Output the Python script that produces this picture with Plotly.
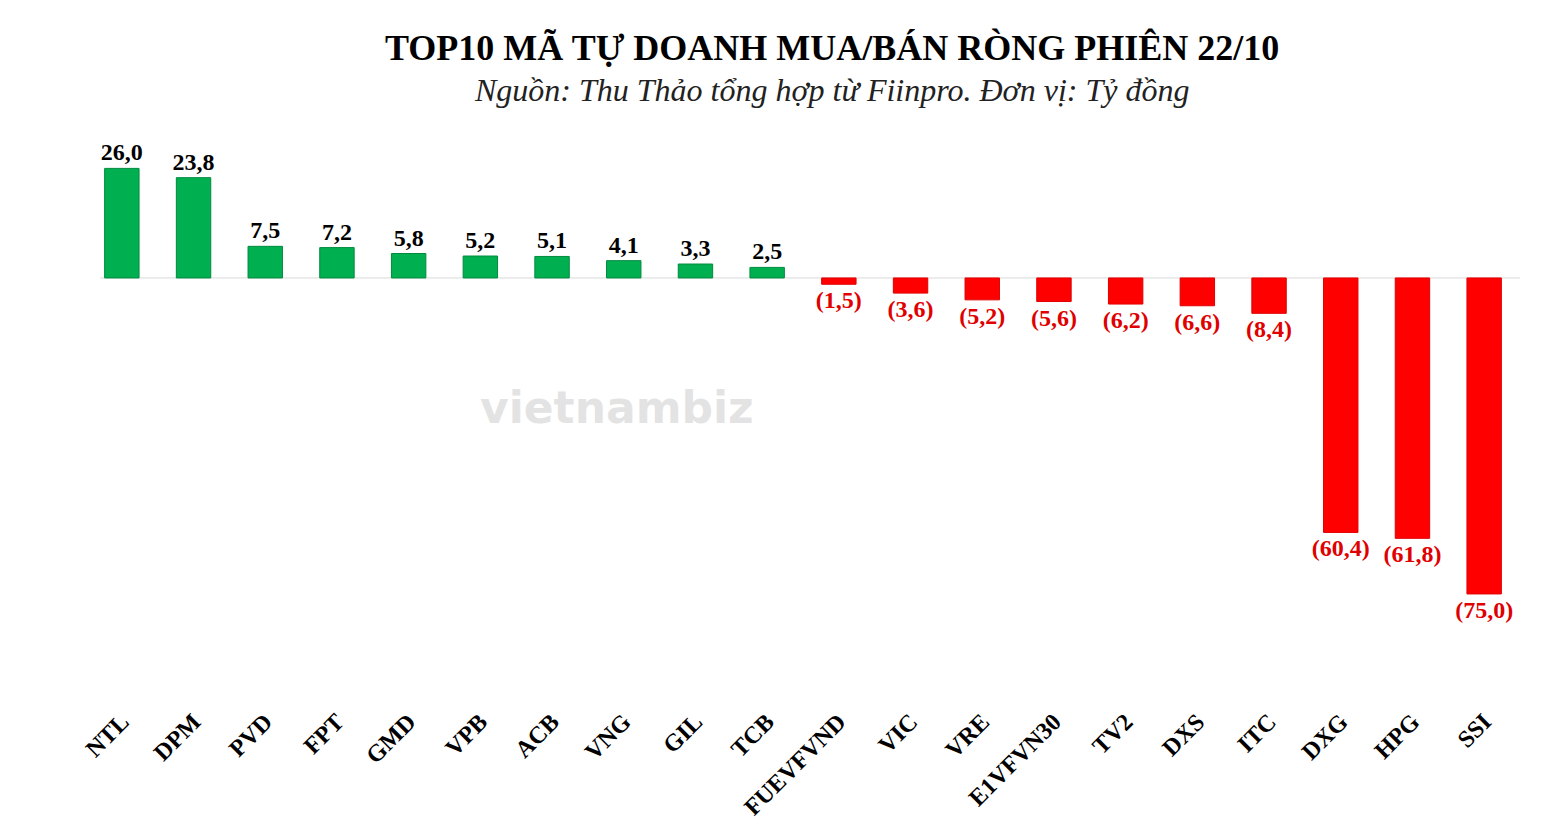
import plotly.graph_objects as go

tickers = ["NTL", "DPM", "PVD", "FPT", "GMD", "VPB", "ACB", "VNG", "GIL", "TCB",
           "FUEVFVND", "VIC", "VRE", "E1VFVN30", "TV2", "DXS", "ITC", "DXG", "HPG", "SSI"]
values = [26.0, 23.8, 7.5, 7.2, 5.8, 5.2, 5.1, 4.1, 3.3, 2.5,
          -1.5, -3.6, -5.2, -5.6, -6.2, -6.6, -8.4, -60.4, -61.8, -75.0]


def fmt(v):
    s = f"{abs(v):.1f}".replace(".", ",")
    return f"<b>{s}</b>" if v >= 0 else f"<b>({s})</b>"


colors = ["#00b050" if v >= 0 else "#ff0000" for v in values]
line_colors = ["#008a3e" if v >= 0 else "#e00000" for v in values]
text_colors = ["#000000" if v >= 0 else "#e00000" for v in values]

fig = go.Figure(go.Bar(
    x=tickers, y=values,
    marker=dict(color=colors, line=dict(color=line_colors, width=1)),
    width=0.48,
    text=[fmt(v) for v in values],
    textposition="outside",
    textangle=0,
    constraintext="none",
    textfont=dict(family="Liberation Serif", size=24, color=text_colors),
    cliponaxis=False,
))

fig.update_layout(
    width=1545, height=824,
    plot_bgcolor="white", paper_bgcolor="white",
    margin=dict(l=78, r=33, t=133, b=151),
    showlegend=False,
    uniformtext=dict(minsize=24, mode="show"),
)
fig.add_annotation(text="<b>TOP10 MÃ TỰ DOANH MUA/BÁN RÒNG PHIÊN 22/10</b>",
                   xref="paper", yref="paper", x=0.52, y=1.0, yshift=93, yanchor="middle",
                   showarrow=False, font=dict(family="Liberation Serif", size=36, color="#000000"))
fig.add_annotation(text="<i>Nguồn: Thu Thảo tổng hợp từ Fiinpro. Đơn vị: Tỷ đồng</i>",
                   xref="paper", yref="paper", x=0.52, y=1.0, yshift=51, yanchor="middle",
                   showarrow=False, font=dict(family="Liberation Serif", size=32, color="#222222"))
fig.update_yaxes(range=[-94, 32.5], visible=False)
fig.update_xaxes(
    tickangle=-45,
    tickfont=dict(family="Liberation Serif", size=24, color="#000000"),
    tickprefix="<b>", ticksuffix="</b>",
    ticklabelstandoff=28,
    showline=False, showgrid=False, ticks="",
)
fig.add_shape(type="line", xref="paper", yref="y", x0=0.01, x1=1.0, y0=0, y1=0,
              line=dict(color="#d9d9d9", width=1), layer="below")
fig.add_annotation(text="<b>vietnambiz</b>", xref="paper", yref="paper", x=0.37, y=0.5,
                   showarrow=False, font=dict(family="DejaVu Sans", size=44, color="rgba(200,200,200,0.5)"))

fig.write_html("out.html")
